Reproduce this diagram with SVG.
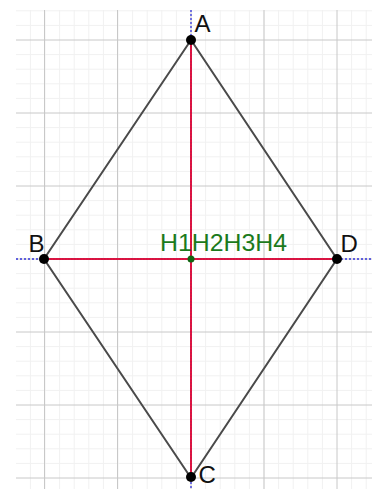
<svg xmlns="http://www.w3.org/2000/svg" width="374" height="489" viewBox="0 0 374 489">
<defs>
<style>
.minor{stroke:#f1f1f1;stroke-width:1;fill:none}
.major{stroke:#c8c8c8;stroke-width:1;fill:none}
.side{stroke:#4a4a4a;stroke-width:2;fill:none}
.diag{stroke:#e3133f;stroke-width:2;fill:none}
.diagdot{stroke:#8a2060;stroke-width:1;stroke-dasharray:1.5 1.5;fill:none;opacity:0.45}
.axis{stroke:#3333dd;stroke-width:1.3;stroke-dasharray:2 2;fill:none}
.pt{fill:#000}
.lbl{font-family:"Liberation Sans",Arial,sans-serif;font-size:24px;fill:#111}
.glbl{font-family:"Liberation Sans",Arial,sans-serif;font-size:24px;fill:#1b7a1b}
</style>
</defs>
<rect x="0" y="0" width="374" height="489" fill="#fff"/>
<g id="grid">
<path class="minor" d="M30.4 10V489M45 10V489M59.6 10V489M74.2 10V489M88.8 10V489M103.4 10V489M118 10V489M132.6 10V489M147.2 10V489M161.8 10V489M176.4 10V489M205.6 10V489M220.2 10V489M234.8 10V489M249.4 10V489M264 10V489M278.6 10V489M293.2 10V489M307.8 10V489M322.4 10V489M351.6 10V489M366.2 10V489"/>
<path class="minor" d="M16 10.8H372M16 25.4H372M16 54.6H372M16 69.2H372M16 83.8H372M16 98.4H372M16 127.6H372M16 142.2H372M16 156.8H372M16 171.4H372M16 200.6H372M16 215.2H372M16 229.8H372M16 244.4H372M16 273.6H372M16 288.2H372M16 302.8H372M16 317.4H372M16 346.6H372M16 361.2H372M16 375.8H372M16 390.4H372M16 419.6H372M16 434.2H372M16 448.8H372M16 463.4H372"/>
<path class="major" d="M44.5 10V489M117.5 10V489M191 10V489M264 10V489M337 10V489"/>
<path class="major" d="M16 40H372M16 113H372M16 186H372M16 259H372M16 332H372M16 405H372M16 478H372"/>
</g>
<g id="connectors">
<path class="axis" d="M191 10V40M191 478V489M16 259H44M337 259H372"/>
<path class="diag" d="M191 40V478M44 259H337"/>
<path class="diagdot" d="M191 40V478M44 259H337"/>
<path class="side" d="M191 40L44 259L191 478L337 259Z"/>
</g>
<g id="A"><circle class="pt" cx="191" cy="40" r="5"/><text class="lbl" x="194.5" y="32">A</text></g>
<g id="B"><circle class="pt" cx="44" cy="259" r="5"/><text class="lbl" x="28.5" y="252">B</text></g>
<g id="C"><circle class="pt" cx="191" cy="477" r="5"/><text class="lbl" x="198.5" y="483">C</text></g>
<g id="D"><circle class="pt" cx="337" cy="259" r="5"/><text class="lbl" x="340.5" y="252">D</text></g>
<g id="H"><circle cx="191" cy="259" r="3.5" fill="#116611"/><text class="glbl" x="160" y="251" textLength="127" lengthAdjust="spacingAndGlyphs">H1H2H3H4</text></g>
</svg>
